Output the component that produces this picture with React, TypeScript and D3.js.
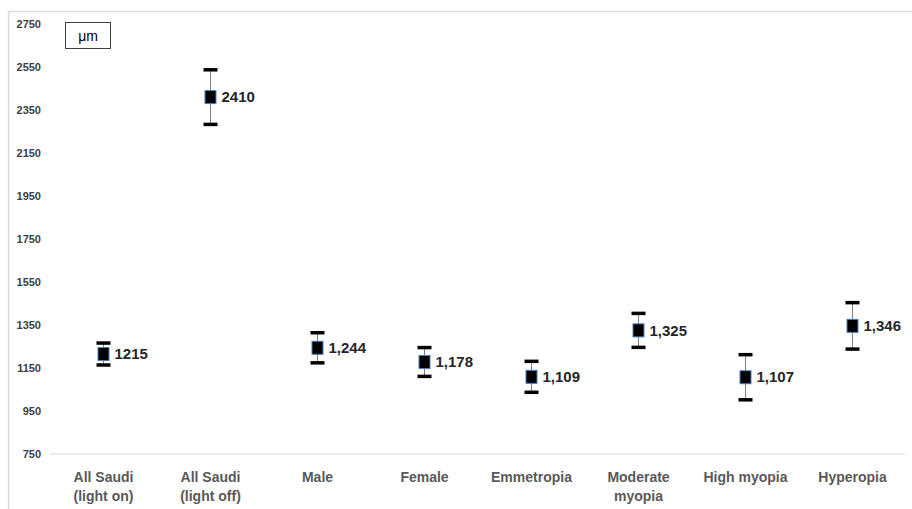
import React from "react";
import * as d3 from "d3";

const categories: string[][] = [
  ["All Saudi", "(light on)"],
  ["All Saudi", "(light off)"],
  ["Male"],
  ["Female"],
  ["Emmetropia"],
  ["Moderate", "myopia"],
  ["High myopia"],
  ["Hyperopia"],
];
const means = [1215, 2410, 1244, 1178, 1109, 1325, 1107, 1346];
const errors = [51, 127, 70, 67, 72, 79, 105, 108];
const valueLabels = ["1215", "2410", "1,244", "1,178", "1,109", "1,325", "1,107", "1,346"];
const yTicks = [750, 950, 1150, 1350, 1550, 1750, 1950, 2150, 2350, 2550, 2750];
const unitLabel = "μm";

const W = 912;
const H = 509;

export default function App() {
  const y = d3.scaleLinear().domain([750, 2750]).range([454, 24]);
  const x = d3
    .scaleBand<number>()
    .domain(d3.range(categories.length))
    .range([50, 906]);
  const font = "'Liberation Sans', Arial, sans-serif";
  return (
    <svg
      width={W}
      height={H}
      style={{ position: "absolute", left: 0, top: 0, background: "#fff" }}
      fontFamily={font}
    >
      <rect x={8.5} y={11.5} width={W + 10} height={H + 10} fill="none" stroke="#d9d9d9" strokeWidth={1.5} />
      <line x1={50} x2={905} y1={y(750)} y2={y(750)} stroke="#d9d9d9" strokeWidth={1} />
      {yTicks.map((t) => (
        <text
          key={t}
          x={41}
          y={y(t)}
          dy="0.35em"
          textAnchor="end"
          fontSize={11}
          fontWeight="bold"
          fill="#404040"
        >
          {t}
        </text>
      ))}
      <rect x={65.5} y={22.5} width={45} height={26} fill="#fff" stroke="#404040" strokeWidth={1} />
      <text x={88} y={36} dy="0.35em" textAnchor="middle" fontSize={14} fill="#000">
        {unitLabel}
      </text>
      {categories.map((lines, i) => {
        const cx = (x(i) as number) + x.bandwidth() / 2;
        return (
          <text key={i} textAnchor="middle" fontSize={14} fontWeight="bold" fill="#595959">
            {lines.map((l, j) => (
              <tspan key={j} x={cx} y={482 + j * 19}>
                {l}
              </tspan>
            ))}
          </text>
        );
      })}
      {means.map((m, i) => {
        const cx = (x(i) as number) + x.bandwidth() / 2;
        const yTop = y(m + errors[i]);
        const yBot = y(m - errors[i]);
        const yc = y(m);
        return (
          <g key={i}>
            <line x1={cx} x2={cx} y1={yTop} y2={yBot} stroke="#7f7f7f" strokeWidth={1} />
            <line x1={cx - 7} x2={cx + 7} y1={yTop} y2={yTop} stroke="#000" strokeWidth={3.5} />
            <line x1={cx - 7} x2={cx + 7} y1={yBot} y2={yBot} stroke="#000" strokeWidth={3.5} />
            <rect x={cx - 5.5} y={yc - 6.5} width={11} height={13} fill="#000" stroke="#4a7ebb" strokeWidth={1} />
            <text
              x={cx + 11}
              y={yc}
              dy="0.35em"
              fontSize={15}
              fontWeight="bold"
              fill="#262626"
            >
              {valueLabels[i]}
            </text>
          </g>
        );
      })}
    </svg>
  );
}
